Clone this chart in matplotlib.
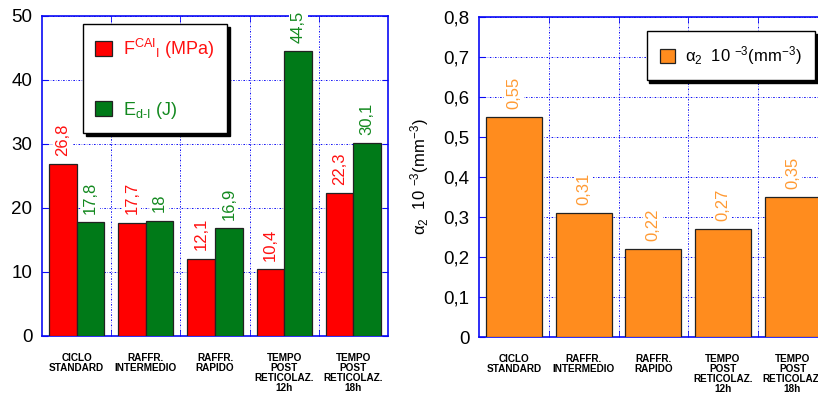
import matplotlib
matplotlib.use("Agg")
import matplotlib.pyplot as plt
from matplotlib.ticker import FuncFormatter, MultipleLocator, FixedLocator
import numpy as np

plt.rcParams['font.family'] = ['Liberation Sans', 'DejaVu Sans']
plt.rcParams['mathtext.fontset'] = 'custom'
plt.rcParams['mathtext.rm'] = 'Liberation Sans'
plt.rcParams['mathtext.it'] = 'Liberation Sans:italic'
plt.rcParams['mathtext.bf'] = 'Liberation Sans:bold'

# --- data ---
categories = ["CICLO\nSTANDARD", "RAFFR.\nINTERMEDIO", "RAFFR.\nRAPIDO",
              "TEMPO\nPOST\nRETICOLAZ.\n12h", "TEMPO\nPOST\nRETICOLAZ.\n18h"]
f_cai = [26.8, 17.7, 12.1, 10.4, 22.3]
e_d = [17.8, 18.0, 16.9, 44.5, 30.1]
alpha2 = [0.55, 0.31, 0.22, 0.27, 0.35]

f_cai_labels = ["26,8", "17,7", "12,1", "10,4", "22,3"]
e_d_labels = ["17,8", "18", "16,9", "44,5", "30,1"]
alpha2_labels = ["0,55", "0,31", "0,22", "0,27", "0,35"]

RED = "#FF0000"
GREEN = "#007A18"
ORANGE = "#FF8C1E"
RED_TXT = "#FF1010"
GREEN_TXT = "#13891F"
ORANGE_TXT = "#FF9A33"
BLUE = "#0A0AF5"
EDGE = "#222222"

W, H = 818, 396
fig = plt.figure(figsize=(W / 100, H / 100), dpi=100)

ax1 = fig.add_axes([42 / W, 1 - 336 / H, 346 / W, 320 / H])
ax2 = fig.add_axes([479.3 / W, 1 - 337 / H, 348 / W, 320 / H])

x = np.arange(len(categories))
grid_style = dict(color=BLUE, linestyle=(0, (1.6, 1.6, 0.5, 1.6)), linewidth=0.7)


def style_axes(ax):
    ax.set_axisbelow(True)
    for s in ax.spines.values():
        s.set_color(BLUE)
        s.set_linewidth(1.2)
    ax.set_xlim(-0.5, len(categories) - 0.5)
    ax.xaxis.set_major_locator(FixedLocator(x))
    ax.xaxis.set_minor_locator(FixedLocator(x[:-1] + 0.5))
    ax.set_xticklabels(categories, fontsize=7.2, fontweight='bold',
                       linespacing=1.0, va='top')
    ax.tick_params(axis='x', which='major', length=0, pad=12)
    ax.tick_params(axis='x', which='minor', direction='in', length=4,
                   color=BLUE, top=True, bottom=True)
    ax.tick_params(axis='y', which='major', direction='in', length=4,
                   color=BLUE, left=True, right=True, labelsize=13.5, pad=7)
    ax.grid(True, axis='y', which='major', **grid_style)
    ax.grid(True, axis='x', which='minor', **grid_style)


def value_label(ax, xpos, val, text, color):
    ax.annotate(text, (xpos, val), xytext=(0, 6), textcoords='offset points',
                rotation=90, ha='center', va='bottom', fontsize=12,
                color=color, zorder=10, annotation_clip=False,
                bbox=dict(boxstyle='square,pad=0.12', fc='white', ec='none'))


def legend_box(ax, **kw):
    leg = ax.legend(fancybox=False, framealpha=1, edgecolor='black',
                    borderaxespad=0, handlelength=0.9, handleheight=0.9,
                    handletextpad=0.6,
                    shadow={'color': 'black', 'alpha': 1}, **kw)
    leg.get_frame().set_linewidth(1.0)
    return leg


# --- left panel ---
style_axes(ax1)
w = 0.4
ax1.bar(x - w / 2, f_cai, w, color=RED, edgecolor=EDGE, linewidth=0.9,
        label=r'F$^{\mathrm{CAI}}$$_{\mathrm{I}}$ (MPa)', zorder=3)
ax1.bar(x + w / 2, e_d, w, color=GREEN, edgecolor=EDGE, linewidth=0.9,
        label=r'E$_{\mathrm{d\text{-}I}}$ (J)', zorder=3)
ax1.set_ylim(0, 50)
ax1.yaxis.set_major_locator(MultipleLocator(10))
for xi, v, t in zip(x - w / 2, f_cai, f_cai_labels):
    value_label(ax1, xi, v, t, RED_TXT)
for xi, v, t in zip(x + w / 2, e_d, e_d_labels):
    value_label(ax1, xi, v, t, GREEN_TXT)

leg1 = legend_box(ax1, loc='upper left', bbox_to_anchor=(0.118, 0.975),
                  fontsize=13, labelspacing=2.15, borderpad=0.7)
for txt, c in zip(leg1.get_texts(), [RED_TXT, GREEN_TXT]):
    txt.set_color(c)

# --- right panel ---
style_axes(ax2)
alpha_label = r'$\mathrm{\alpha}_{2}$  10 $^{-3}$(mm$^{-3}$)'
ax2.bar(x, alpha2, 0.8, color=ORANGE, edgecolor=EDGE, linewidth=0.9,
        label=alpha_label, zorder=3)
ax2.set_ylim(0, 0.8)
ax2.yaxis.set_major_locator(MultipleLocator(0.1))
ax2.yaxis.set_major_formatter(FuncFormatter(
    lambda v, p: "0" if abs(v) < 1e-9 else f"{v:.1f}".replace('.', ',')))
for xi, v, t in zip(x, alpha2, alpha2_labels):
    value_label(ax2, xi, v, t, ORANGE_TXT)

ax2.set_ylabel(alpha_label, fontsize=12)
ax2.yaxis.set_label_coords(-0.14, 0.5)

legend_box(ax2, loc='upper right', bbox_to_anchor=(0.964, 0.957),
           fontsize=12, borderpad=0.8)

fig.savefig("out.png", dpi=100)
